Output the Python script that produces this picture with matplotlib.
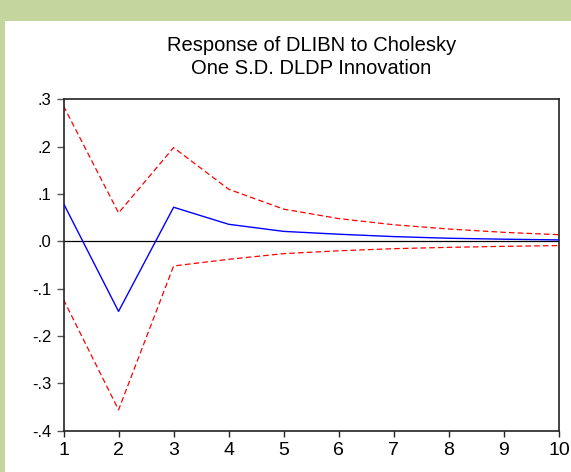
import matplotlib
matplotlib.use("Agg")
import matplotlib.pyplot as plt
from matplotlib.patches import Rectangle

periods = [1, 2, 3, 4, 5, 6, 7, 8, 9, 10]
response = [0.080, -0.148, 0.072, 0.036, 0.021, 0.015, 0.010, 0.0065, 0.0045, 0.003]
upper = [0.286, 0.060, 0.198, 0.110, 0.068, 0.048, 0.035, 0.026, 0.019, 0.014]
lower = [-0.123, -0.356, -0.052, -0.038, -0.026, -0.020, -0.0155, -0.0127, -0.0106, -0.009]
ytick_vals = [0.3, 0.2, 0.1, 0.0, -0.1, -0.2, -0.3, -0.4]
ytick_labels = [".3", ".2", ".1", ".0", "-.1", "-.2", "-.3", "-.4"]
xtick_labels = ["1", "2", "3", "4", "5", "6", "7", "8", "9", "10"]
title_lines = ["Response of DLIBN to Cholesky", "One S.D. DLDP Innovation"]

plt.rcParams['font.family'] = ['Liberation Sans', 'DejaVu Sans']

W, H = 571, 472
fig = plt.figure(figsize=(W / 100, H / 100), dpi=100)
fig.patch.set_facecolor('white')

green = '#C4D69D'
fig.add_artist(Rectangle((0, 1 - 21 / H), 1, 21 / H, transform=fig.transFigure,
                         facecolor=green, edgecolor='none', zorder=0))
fig.add_artist(Rectangle((0, 0), 5 / W, 1, transform=fig.transFigure,
                         facecolor=green, edgecolor='none', zorder=0))

left, right, top, bottom = 63.5, 559, 99.3, 430.7
ax = fig.add_axes([left / W, 1 - bottom / H, (right - left) / W, (bottom - top) / H])

ax.axhline(0, color='black', lw=0.9, zorder=1)
ax.plot(periods, response, color='#0000FF', lw=1.0, zorder=3)
ax.plot(periods, upper, color='#FF0000', lw=0.9, dashes=(4.5, 2.5), zorder=2)
ax.plot(periods, lower, color='#FF0000', lw=0.9, dashes=(4.5, 2.5), zorder=2)

ax.set_xlim(1, 10)
ax.set_ylim(-0.4, 0.3)
ax.set_xticks(periods)
ax.set_xticklabels(xtick_labels, fontsize=14)
ax.set_yticks(ytick_vals)
ax.set_yticklabels(ytick_labels, fontsize=12)

ax.tick_params(axis='y', direction='out', length=5, width=1.0, color='#555555', pad=3.5,
               left=True, right=False)
ax.tick_params(axis='x', direction='out', length=4.3, width=1.0, color='#222222', pad=4,
               bottom=True, top=False)
for s in ax.spines.values():
    s.set_linewidth(1.2)
    s.set_color('#222222')

cx = ((left + right) / 2) / W
fig.text(cx, 1 - 51 / H, title_lines[0], ha='center', va='baseline', fontsize=14.5)
fig.text(cx, 1 - 73.5 / H, title_lines[1], ha='center', va='baseline', fontsize=14.5)

fig.savefig('out.png', dpi=100)
